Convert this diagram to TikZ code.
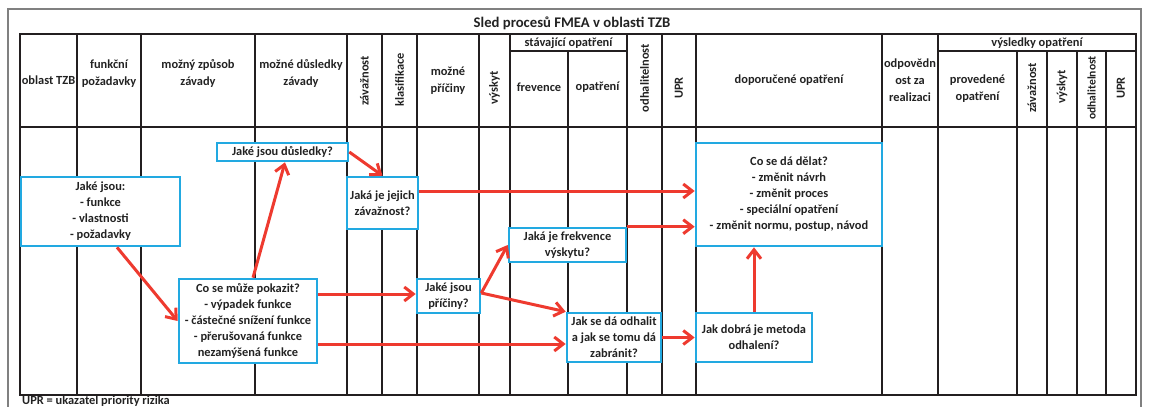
\documentclass[tikz,border=0pt]{standalone}
\usepackage{fontspec}
\setmainfont{Carlito}
\usetikzlibrary{arrows.meta}
\definecolor{fblue}{HTML}{22A9E1}
\definecolor{fred}{HTML}{EE3A2F}
\definecolor{tline}{HTML}{231F20}
\definecolor{txt}{HTML}{222222}
\definecolor{framegray}{HTML}{808080}
\begin{document}
\begin{tikzpicture}[x=1pt,y=-1pt,
  tl/.style={line width=2pt,draw=tline},
  hdr/.style={font=\bfseries\fontsize{12.4}{17}\selectfont,text=txt,align=center,inner sep=0pt},
  vhdr/.style={hdr,rotate=90},
  qbox/.style={draw=fblue,line width=2.6pt,fill=white,font=\bfseries\fontsize{12.4}{16}\selectfont,text=txt,align=center,inner sep=0pt},
  arr/.style={draw=fred,line width=3pt,-{Straight Barb[length=9pt,width=14pt]}},
]
\useasboundingbox (0,0) rectangle (1149,407);
% outer frame
\draw[draw=framegray,line width=1.5pt] (8,407) -- (8,9) -- (1141,9) -- (1141,407);
\node[hdr,font=\bfseries\fontsize{14.7}{17}\selectfont] (title) at (572,23) {Sled procesů FMEA v oblasti TZB};
% table
\draw[tl] (20,34) rectangle (1136,395);
\draw[tl] (20,127) -- (1136,127);
\draw[tl] (510,51) -- (627,51);
\draw[tl] (938,51) -- (1136,51);
\foreach \x in {77,141,255,347,382,417,479,510,627,662,696,882,938} \draw[tl] (\x,34) -- (\x,395);
\foreach \x in {568,1017,1047,1077,1106} \draw[tl] (\x,51) -- (\x,395);
% header texts
\node[hdr] (h1) at (48.5,80) {oblast TZB};
\node[hdr] (h2) at (109,73.5) {funkční\\požadavky};
\node[hdr] (h3) at (198,73) {možný způsob\\závady};
\node[hdr] (h4) at (301,73) {možné důsledky\\závady};
\node[vhdr] (h5) at (364.5,81) {závažnost};
\node[vhdr] (h6) at (399.5,80) {klasifikace};
\node[hdr] (h7) at (448,80.5) {možné\\příčiny};
\node[vhdr] (h8) at (494.5,88) {výskyt};
\node[hdr] (h9) at (568.5,43) {stávající opatření};
\node[hdr] (h10) at (539,87) {frevence};
\node[hdr] (h11) at (597.5,87) {opatření};
\node[vhdr] (h12) at (644.5,78) {odhalitelnost};
\node[vhdr] (h13) at (679,88) {UPR};
\node[hdr] (h14) at (789,80) {doporučené opatření};
\node[hdr] (h15) at (910,80) {odpovědn\\ost za\\realizaci};
\node[hdr] (h16) at (1037,43) {výsledky opatření};
\node[hdr] (h17) at (977.5,88.5) {provedené\\opatření};
\node[vhdr] (h18) at (1032,88) {závažnost};
\node[vhdr] (h19) at (1062,87) {výskyt};
\node[vhdr,font=\bfseries\fontsize{11.6}{17}\selectfont] (h20) at (1091.5,88) {odhalitelnost};
\node[vhdr] (h21) at (1121,88) {UPR};
\node[hdr,anchor=west] (foot) at (22,401) {UPR = ukazatel priority rizika};
% question boxes
\node[qbox,minimum width=159pt,minimum height=69pt] (A) at (100.5,211.5) {Jaké jsou:\\- funkce\\- vlastnosti\\- požadavky};
\node[qbox,minimum width=131pt,minimum height=18pt] (B) at (282.5,152) {Jaké jsou důsledky?};
\node[qbox,minimum width=71pt,minimum height=52pt] (C) at (382.5,203) {Jaká je jejich\\závažnost?};
\node[qbox,minimum width=117pt,minimum height=34pt] (D) at (567.5,245) {Jaká je frekvence\\výskytu?};
\node[qbox,minimum width=186pt,minimum height=103pt] (E) at (789,194.5) {Co se dá dělat?\\- změnit návrh\\- změnit proces\\- speciální opatření\\- změnit normu, postup, návod};
\node[qbox,minimum width=138pt,minimum height=84pt] (F) at (248,321) {Co se může pokazit?\\- výpadek funkce\\- částečné snížení funkce\\- přerušovaná funkce\\nezamýšená funkce};
\node[qbox,minimum width=63pt,minimum height=34pt] (G) at (448.5,296) {Jaké jsou\\příčiny?};
\node[qbox,minimum width=94pt,minimum height=49pt] (H) at (614,337.5) {Jak se dá odhalit\\a jak se tomu dá\\zabránit?};
\node[qbox,minimum width=116pt,minimum height=49pt] (I) at (754,337.5) {Jak dobrá je metoda\\odhalení?};
% arrows
\coordinate (a1) at ([xshift=16.5pt]A.south);
\draw[arr] (a1) -- (F.west);
\coordinate (f2) at ([xshift=5pt]F.north);
\draw[arr] (f2) -- ([xshift=2.5pt]B.south);
\draw[arr] (B.east) -- (C.north);
\coordinate (c4) at ([yshift=12pt]C.east);
\draw[arr] (c4) -- (c4 -| E.west);
\draw[arr] (D.north east) -- (D.north east -| E.west);
\coordinate (f6) at ([yshift=27pt]F.east);
\draw[arr] (f6) -- (f6 -| G.west);
\coordinate (g7) at ([yshift=3pt]G.east);
\draw[arr] (g7) -- (D.west);
\draw[arr] (g7) -- (H.north west);
\coordinate (f9) at ([yshift=-23pt]F.east);
\draw[arr] (f9) -- (f9 -| H.west);
\draw[arr] (H.east) -- (I.west);
\draw[arr] (I.north) -- (I.north |- E.south);
\end{tikzpicture}
\end{document}
